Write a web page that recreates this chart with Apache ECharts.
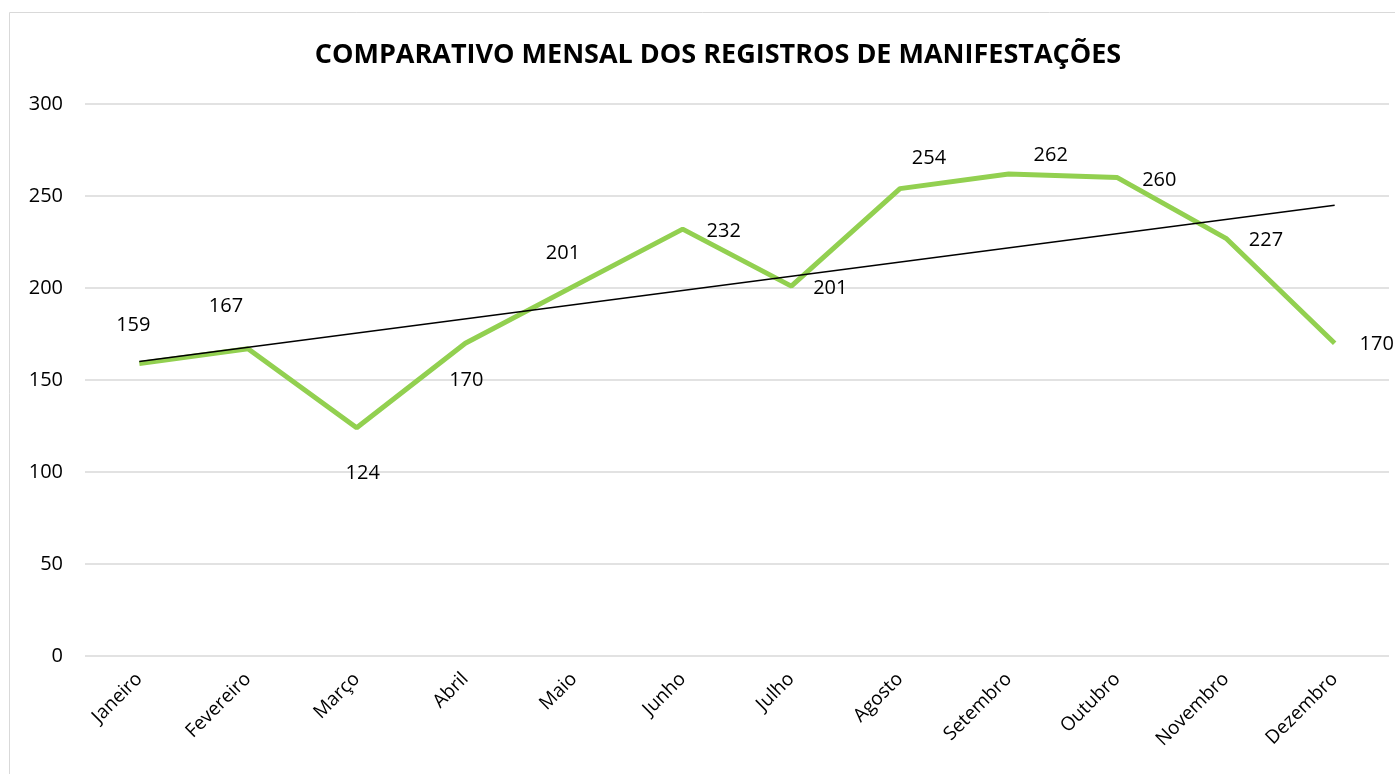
<!DOCTYPE html>
<html>
<head>
<meta charset="utf-8">
<title>Comparativo mensal</title>
<script src="https://cdn.jsdelivr.net/npm/echarts@6/dist/echarts.min.js"></script>
<style>
  html, body { margin: 0; padding: 0; background: #fff; }
  #chart { width: 1395px; height: 774px; }
</style>
</head>
<body>
<div id="chart"></div>
<script>
const months = ['Janeiro', 'Fevereiro', 'Março', 'Abril', 'Maio', 'Junho', 'Julho', 'Agosto', 'Setembro', 'Outubro', 'Novembro', 'Dezembro']
const registros = [159, 167, 124, 170, 201, 232, 201, 254, 262, 260, 227, 170]
// tendência linear, pontas
const tendencia = [160, null, null, null, null, null, null, null, null, null, null, 245]
// deslocamento de cada rótulo em relação ao ponto
const labelOffsets = [[-6, -38], [-22, -42], [6, 45], [1, 37], [-11, -33], [41, 2], [39, 2], [29, -30], [42, -19], [42, 3], [40, 2], [42, 1]]

const font = "'Open Sans', 'Liberation Sans', sans-serif"
const chart = echarts.init(document.getElementById('chart'))

const option = {
  animation: false,
  textStyle: { fontFamily: font },
  graphic: [
    {
      type: 'rect',
      shape: { x: 9.5, y: 12.5, width: 1400, height: 800 },
      style: { fill: 'none', stroke: '#d9d9d9', lineWidth: 1 },
      silent: true,
    },
  ],
  title: {
    text: 'COMPARATIVO MENSAL DOS REGISTROS DE MANIFESTAÇÕES',
    left: 713,
    textAlign: 'center',
    top: 37,
    textStyle: { fontFamily: font, fontSize: 27, fontWeight: 'bold', color: '#000' },
  },
  grid: { left: 85, right: 6, top: 104, bottom: 118 },
  xAxis: {
    type: 'category',
    data: months,
    axisLine: { show: false },
    axisTick: { show: false },
    axisLabel: { rotate: 45, fontSize: 19, color: '#000', margin: 20, fontFamily: font },
  },
  yAxis: {
    type: 'value',
    min: 0,
    max: 300,
    interval: 50,
    axisLine: { show: false },
    axisTick: { show: false },
    axisLabel: { fontSize: 20, color: '#000', margin: 22, fontFamily: font },
    splitLine: { lineStyle: { color: '#d9d9d9', width: 1.5 } },
  },
  series: [
    {
      name: 'Registros',
      type: 'line',
      data: registros.map((v, i) => ({
        value: v,
        label: { offset: labelOffsets[i] },
      })),
      symbol: 'circle',
      symbolSize: 0,
      showSymbol: true,
      lineStyle: { color: '#92d050', width: 5 },
      itemStyle: { color: '#92d050' },
      label: {
        show: true,
        position: 'inside',
        align: 'center',
        verticalAlign: 'middle',
        fontSize: 20,
        color: '#000',
        fontFamily: font,
      },
      z: 3,
    },
    {
      name: 'Tendência',
      type: 'line',
      data: tendencia,
      connectNulls: true,
      symbol: 'none',
      lineStyle: { color: '#000', width: 1.5 },
      z: 4,
    },
  ],
}

chart.setOption(option)
</script>
</body>
</html>
